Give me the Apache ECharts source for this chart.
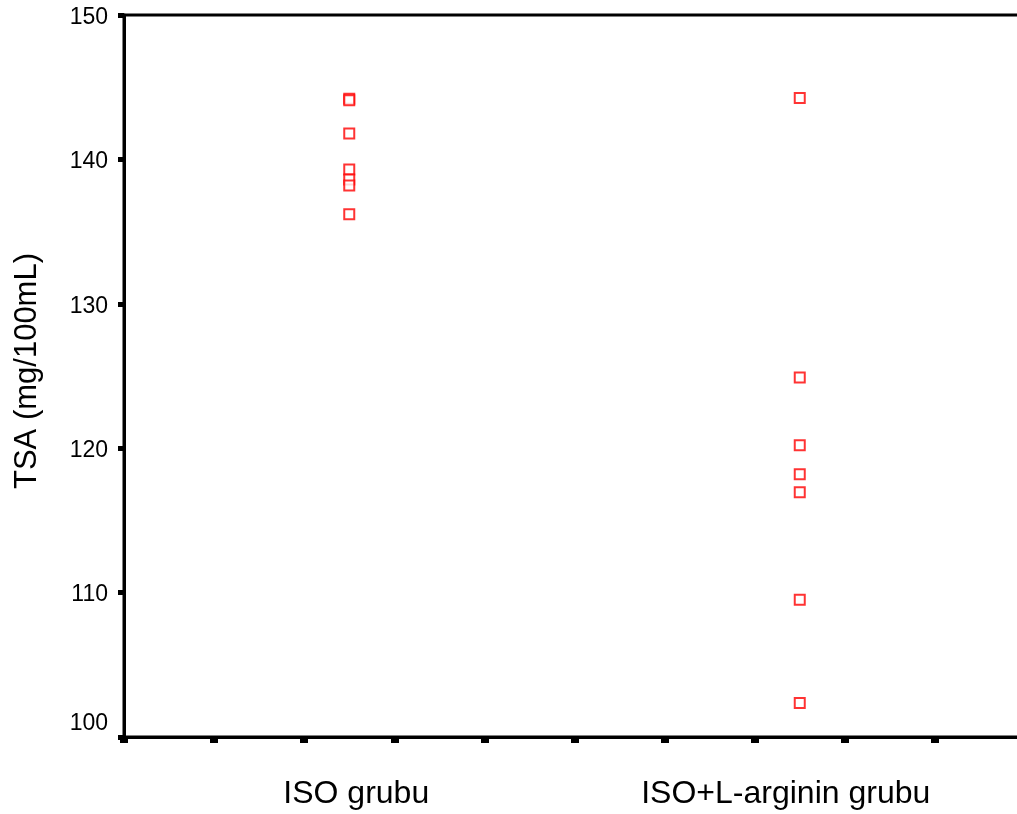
<!DOCTYPE html>
<html>
<head>
<meta charset="utf-8">
<script src="https://cdn.jsdelivr.net/npm/echarts@6/dist/echarts.min.js"></script>
<style>html,body{margin:0;padding:0;background:#fff}#c{width:1017px;height:814px}</style>
</head>
<body>
<div id="c"></div>
<script>
const categories = ['ISO grubu', 'ISO+L-arginin grubu'];
const isoValues = [144.2, 144.1, 141.8, 139.3, 138.6, 138.2, 136.2];
const isoArgValues = [144.25, 124.9, 120.2, 118.2, 116.95, 109.5, 102.35];
const yAxisName = 'TSA (mg/100mL)';
const yMin = 100, yMax = 150, yStep = 10;

const FONT = "'Liberation Sans', Arial, sans-serif";
const chart = echarts.init(document.getElementById('c'), null, {renderer: 'canvas'});

function toPoints(vals, catIndex) {
  return vals.map(v => [catIndex + 1, v]);
}

chart.setOption({
  animation: false,
  backgroundColor: '#fff',
  grid: {left: 124, width: 901, top: 15, bottom: 77, outerBoundsMode: 'none', containLabel: false,
         show: true, borderColor: '#000', borderWidth: 3, backgroundColor: 'transparent'},
  xAxis: [
    {
      type: 'value', min: 0.5, max: 2.5, interval: 0.2,
      axisLine: {show: true, lineStyle: {color: '#000', width: 3}},
      axisTick: {show: true, length: 6, lineStyle: {color: '#000', width: 8}},
      axisLabel: {show: false},
      splitLine: {show: false}
    },
    {
      type: 'value', min: 0.5, max: 2.5, interval: 0.5, position: 'bottom',
      axisLine: {show: false}, axisTick: {show: false}, splitLine: {show: false},
      axisLabel: {
        show: true, margin: 41,
        formatter: function (v) {
          if (Math.abs(v - 1) < 1e-6) return '{a|' + categories[0] + '}';
          if (Math.abs(v - 2) < 1e-6) return '{b|' + categories[1] + '}';
          return '';
        },
        rich: {
          a: {fontSize: 32, fontFamily: FONT, color: '#000', padding: [0, 0, 0, 14]},
          b: {fontSize: 32, fontFamily: FONT, color: '#000', padding: [0, 28, 0, 0]}
        }
      }
    }
  ],
  yAxis: {
    type: 'value', min: yMin, max: yMax, interval: yStep,
    name: yAxisName, nameLocation: 'middle', nameGap: 81,
    nameTextStyle: {fontSize: 31, fontFamily: FONT, color: '#000', padding: [0, 0, 0, 10]},
    axisLine: {show: true, lineStyle: {color: '#000', width: 3}},
    axisTick: {show: true, length: 6, lineStyle: {color: '#000', width: 5}},
    axisLabel: {
      margin: 16,
      formatter: function (v) {
        return v === yMin ? '{low|' + v + '}' : '{n|' + v + '}';
      },
      rich: {
        n: {fontSize: 23, fontFamily: FONT, color: '#000', padding: [5, 0, 0, 0]},
        low: {fontSize: 23, fontFamily: FONT, color: '#000', padding: [0, 0, 26, 0]}
      }
    },
    splitLine: {show: false}
  },
  series: [
    {
      type: 'scatter', xAxisIndex: 0, data: toPoints(isoValues, 0),
      symbol: 'rect', symbolSize: 10,
      itemStyle: {color: '#fff', borderColor: '#ff0000', borderWidth: 2}
    },
    {
      type: 'scatter', xAxisIndex: 0, data: toPoints(isoArgValues, 1),
      symbol: 'rect', symbolSize: 10,
      itemStyle: {color: '#fff', borderColor: '#ff0000', borderWidth: 2}
    }
  ]
});
</script>
</body>
</html>
